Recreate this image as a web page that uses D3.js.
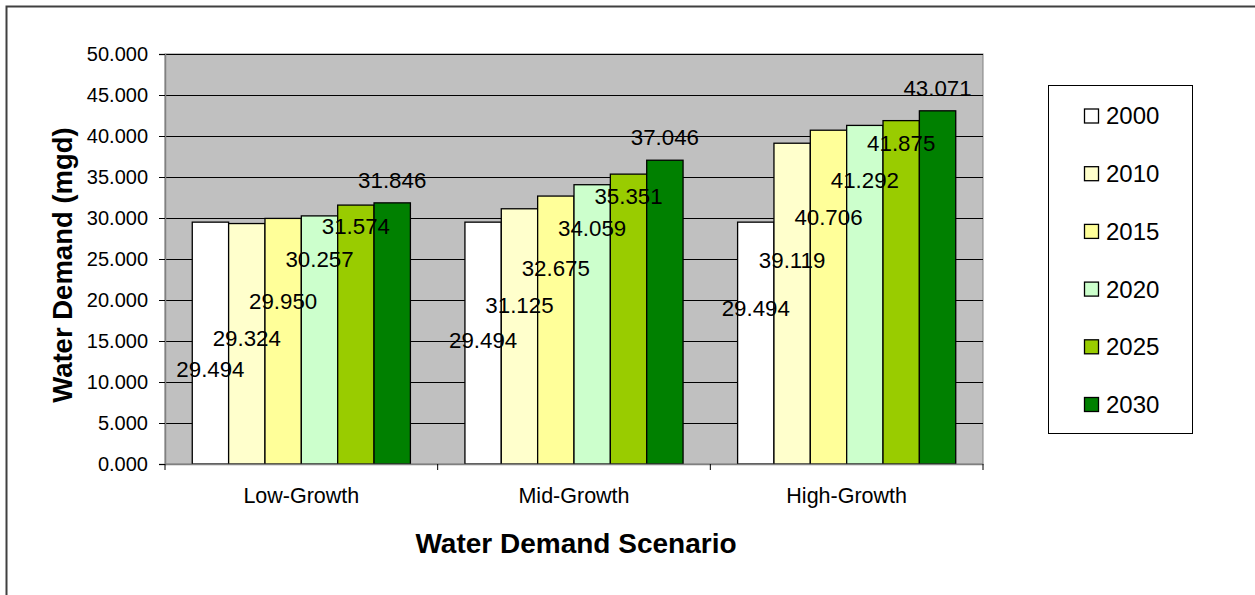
<!DOCTYPE html>
<html><head><meta charset="utf-8">
<script src="https://cdn.jsdelivr.net/npm/d3@7"></script>
<style>
html,body{margin:0;padding:0;background:#fff;}
svg{display:block;}
text{font-family:"Liberation Sans",Arial,sans-serif;fill:#000;}
</style></head><body>
<svg id="chart" width="1255" height="595"></svg>
<script>
const categories = ["Low-Growth", "Mid-Growth", "High-Growth"];
const seriesNames = ["2000", "2010", "2015", "2020", "2025", "2030"];
const seriesColors = ["#FFFFFF", "#FFFFCC", "#FFFF99", "#CCFFCC", "#99CC00", "#008000"];
// values per series, ordered like categories
const v2000 = [29.494, 29.494, 29.494];
const v2010 = [29.324, 31.125, 39.119];
const v2015 = [29.950, 32.675, 40.706];
const v2020 = [30.257, 34.059, 41.292];
const v2025 = [31.574, 35.351, 41.875];
const v2030 = [31.846, 37.046, 43.071];
// level (in mgd units) at which each data label sits, as placed in the original
const lbl2000 = [11.59, 15.12, 18.99];
const lbl2010 = [15.37, 19.39, 24.88];
const lbl2015 = [19.91, 23.87, 30.04];
const lbl2020 = [24.96, 28.74, 34.63];
const lbl2025 = [28.94, 32.68, 39.18];
const lbl2030 = [34.55, 39.84, 45.82];
const yTicks = [0, 5, 10, 15, 20, 25, 30, 35, 40, 45, 50];
const yTitle = "Water Demand (mgd)";
const xTitle = "Water Demand Scenario";

const seriesValues = [v2000, v2010, v2015, v2020, v2025, v2030];
const seriesLabels = [lbl2000, lbl2010, lbl2015, lbl2020, lbl2025, lbl2030];

const svg = d3.select("#chart");
// outer chart frame
svg.append("rect").attr("x", 6.5).attr("y", 6.5).attr("width", 1400).attr("height", 800)
  .attr("fill", "#fff").attr("stroke", "#404040").attr("stroke-width", 2);

const plot = {left: 165, top: 54, right: 983, bottom: 464};
const x0 = d3.scaleBand().domain(categories).range([plot.left, plot.right]).paddingInner(0).paddingOuter(0);
const x1 = d3.scaleBand().domain(seriesNames).paddingInner(0).paddingOuter(0);
const gap = x0.bandwidth() * 1.5 / 7.5; // Excel gap width 150%
x1.range([gap / 2, x0.bandwidth() - gap / 2]);
const y = d3.scaleLinear().domain([0, 50]).range([plot.bottom, plot.top]);

// plot area
svg.append("rect").attr("x", plot.left).attr("y", plot.top)
  .attr("width", plot.right - plot.left).attr("height", plot.bottom - plot.top)
  .attr("fill", "#C0C0C0").attr("stroke", "#808080").attr("stroke-width", 1);

// gridlines
svg.append("g").selectAll("line").data(yTicks.filter(d => d > 0)).join("line")
  .attr("x1", plot.left).attr("x2", plot.right)
  .attr("y1", d => Math.round(y(d)) + 0.5).attr("y2", d => Math.round(y(d)) + 0.5)
  .attr("stroke", "#000").attr("stroke-width", 1);

// bars
const groups = svg.append("g").selectAll("g").data(seriesNames).join("g")
  .attr("fill", (d, i) => seriesColors[i]);
groups.each(function(s, si) {
  d3.select(this).selectAll("rect").data(categories).join("rect")
    .attr("x", c => x0(c) + x1(s))
    .attr("y", (c, ci) => y(seriesValues[si][ci]))
    .attr("width", x1.bandwidth())
    .attr("height", (c, ci) => y(0) - y(seriesValues[si][ci]))
    .attr("stroke", "#000").attr("stroke-width", 1.3);
});

const FONT = "'Liberation Sans',Arial,sans-serif";
// y axis
const yAxis = d3.axisLeft(y).tickValues(yTicks).tickFormat(d3.format(".3f")).tickSize(6).tickPadding(11);
const gy = svg.append("g").attr("transform", `translate(${plot.left},0)`).call(yAxis);
gy.select(".domain").attr("stroke", "#808080").attr("stroke-width", 1.5);
gy.selectAll(".tick line").attr("stroke", "#000");
gy.selectAll(".tick text").style("font-size", "20px").style("font-family", FONT).attr("fill", "#000");

// x axis
const xAxis = d3.axisBottom(x0).tickSize(0).tickPadding(24);
const gx = svg.append("g").attr("transform", `translate(0,${plot.bottom})`).call(xAxis);
gx.select(".domain").attr("stroke", "#808080").attr("stroke-width", 1.5);
gx.selectAll(".tick text").style("font-size", "21.5px").style("font-family", FONT).attr("fill", "#000");
// category boundary ticks
const bounds = categories.map(c => x0(c)).concat([x0(categories[categories.length - 1]) + x0.bandwidth()]);
gx.selectAll(".bt").data(bounds).join("line").attr("class", "bt")
  .attr("x1", d => d).attr("x2", d => d).attr("y1", 0).attr("y2", 6)
  .attr("stroke", "#000").attr("stroke-width", 1);

// data labels
groups.each(function(s, si) {
  svg.append("g").selectAll("text").data(categories).join("text")
    .attr("x", c => x0(c) + x1(s) + x1.bandwidth() / 2)
    .attr("y", (c, ci) => y(seriesLabels[si][ci]))
    .attr("dy", "0.35em")
    .attr("text-anchor", "middle")
    .style("font-size", "22.3px")
    .text((c, ci) => d3.format(".3f")(seriesValues[si][ci]));
});

// axis titles
svg.append("text").attr("transform", `translate(62,${(plot.top + plot.bottom) / 2 + 6}) rotate(-90)`)
  .attr("text-anchor", "middle").attr("dy", "0.35em")
  .style("font-size", "27.5px").style("font-weight", "bold").text(yTitle);
svg.append("text").attr("x", (plot.left + plot.right) / 2 + 2).attr("y", 543)
  .attr("text-anchor", "middle").attr("dy", "0.35em")
  .style("font-size", "28px").style("font-weight", "bold").text(xTitle);

// legend
const legend = svg.append("g");
legend.append("rect").attr("x", 1048.5).attr("y", 85.5).attr("width", 144).attr("height", 348)
  .attr("fill", "#fff").attr("stroke", "#000").attr("stroke-width", 1);
const ly = d3.scalePoint().domain(seriesNames).range([116, 404.5]);
const li = legend.selectAll("g").data(seriesNames).join("g")
  .attr("transform", d => `translate(0,${ly(d)})`);
li.append("rect").attr("x", 1084.5).attr("y", -7).attr("width", 14).attr("height", 14)
  .attr("fill", (d, i) => seriesColors[i]).attr("stroke", "#000").attr("stroke-width", 1.3);
li.append("text").attr("x", 1106).attr("dy", "0.35em").style("font-size", "24px").text(d => d);
</script>
</body></html>
